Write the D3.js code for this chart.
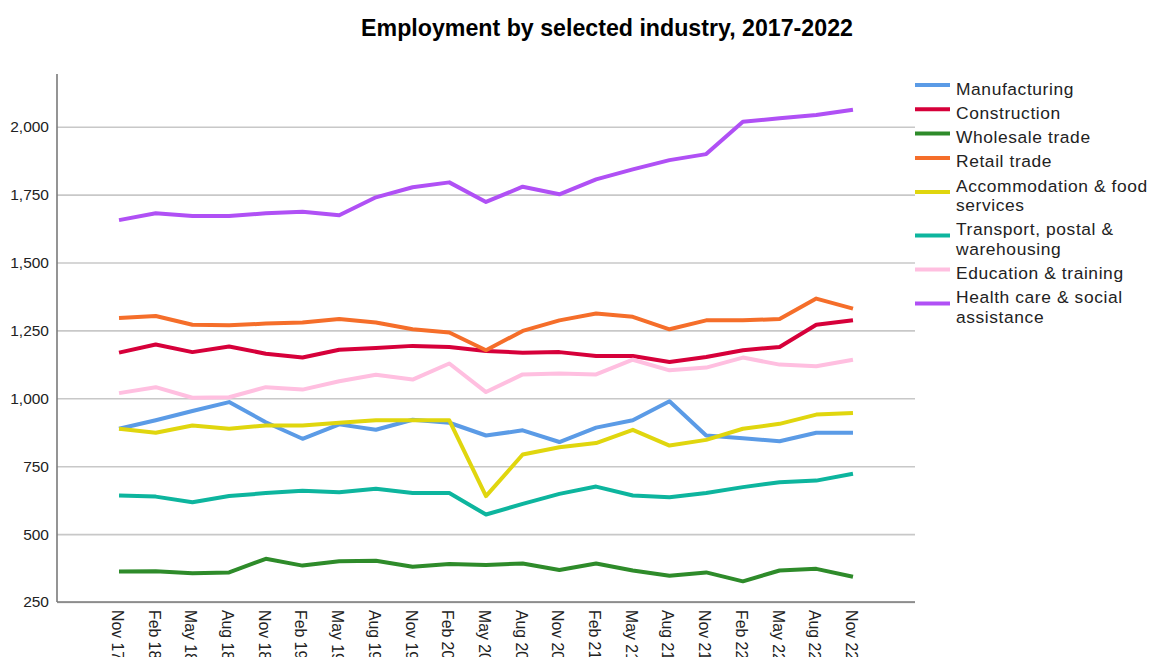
<!DOCTYPE html>
<html>
<head>
<meta charset="utf-8">
<script src="https://cdn.jsdelivr.net/npm/d3@7/dist/d3.min.js"></script>
<style>
  html, body { margin: 0; padding: 0; background: #fff; }
  svg { display: block; font-family: "Liberation Sans", Arial, sans-serif; }
</style>
</head>
<body>
<svg id="chart" width="1154" height="657"></svg>
<script>
// Quarterly reference periods
const periods = ["Nov 17", "Feb 18", "May 18", "Aug 18", "Nov 18", "Feb 19", "May 19", "Aug 19",
  "Nov 19", "Feb 20", "May 20", "Aug 20", "Nov 20", "Feb 21", "May 21", "Aug 21", "Nov 21",
  "Feb 22", "May 22", "Aug 22", "Nov 22"];

// Employed persons ('000) by industry
const manufacturing = [888, 919, 953, 986, 912, 851, 904, 884, 921, 910, 863, 882, 839, 892, 919, 989, 863, 853, 842, 873, 873];
const construction  = [1168, 1198, 1170, 1191, 1164, 1150, 1179, 1185, 1193, 1189, 1174, 1168, 1170, 1156, 1156, 1134, 1152, 1177, 1189, 1271, 1287];
const wholesale     = [362, 363, 356, 359, 409, 384, 400, 402, 380, 390, 386, 392, 368, 392, 366, 347, 359, 326, 366, 372, 343];
const retail        = [1296, 1303, 1271, 1269, 1275, 1279, 1292, 1279, 1254, 1242, 1177, 1248, 1287, 1312, 1300, 1254, 1287, 1287, 1292, 1367, 1330];
const accommodation = [888, 873, 900, 888, 900, 900, 910, 919, 919, 919, 640, 793, 820, 835, 884, 826, 847, 888, 906, 940, 946];
const transport     = [642, 638, 617, 640, 651, 660, 654, 667, 651, 651, 572, 611, 648, 675, 642, 636, 651, 673, 691, 697, 722];
const education     = [1019, 1041, 1002, 1004, 1041, 1032, 1063, 1087, 1069, 1128, 1023, 1088, 1091, 1088, 1142, 1103, 1113, 1150, 1124, 1118, 1142];
const health        = [1656, 1681, 1671, 1671, 1681, 1687, 1674, 1740, 1777, 1795, 1723, 1779, 1751, 1806, 1843, 1877, 1899, 2018, 2031, 2043, 2062];

const seriesNames = ["Manufacturing", "Construction", "Wholesale trade", "Retail trade",
  "Accommodation & food services", "Transport, postal & warehousing",
  "Education & training", "Health care & social assistance"];
const seriesValues = [manufacturing, construction, wholesale, retail, accommodation, transport, education, health];
const seriesColors = ["#5b9be6", "#d6003a", "#2e8b2a", "#f56e2a", "#e0d60e", "#0db59e", "#ffbfe0", "#b050f5"];

const yTicks = [250, 500, 750, 1000, 1250, 1500, 1750, 2000];

const svg = d3.select("#chart");
const plot = { left: 57, right: 915, top: 74, bottom: 602 };

const x = d3.scalePoint()
  .domain(periods)
  .range([plot.left, plot.right])
  .padding(1.69);

const y = d3.scaleLinear()
  .domain([250, 2194])
  .range([plot.bottom, plot.top]);

// Title
svg.append("text")
  .attr("x", 607)
  .attr("y", 36)
  .attr("text-anchor", "middle")
  .attr("font-size", "23.2px")
  .attr("font-weight", "bold")
  .attr("fill", "#000")
  .text("Employment by selected industry, 2017-2022");

// Horizontal gridlines and value labels
const yAxis = svg.append("g")
  .attr("transform", `translate(${plot.left},0)`)
  .call(d3.axisLeft(y)
    .tickValues(yTicks)
    .tickSize(-(plot.right - plot.left))
    .tickPadding(8)
    .tickFormat(d3.format(",")));
yAxis.select(".domain").remove();
yAxis.selectAll(".tick line")
  .attr("stroke", "#c8c8c8")
  .attr("stroke-width", 1.6);
yAxis.selectAll(".tick text")
  .attr("font-size", "15.5px")
  .attr("fill", "#222")
  .attr("font-family", "Liberation Sans, Arial, sans-serif");

// Period labels, rotated to read downward
const xAxis = svg.append("g")
  .attr("transform", `translate(0,${plot.bottom})`)
  .call(d3.axisBottom(x).tickSize(0).tickPadding(0));
xAxis.select(".domain").remove();
xAxis.selectAll(".tick text")
  .attr("font-size", "15.8px")
  .attr("fill", "#222")
  .attr("font-family", "Liberation Sans, Arial, sans-serif")
  .attr("text-anchor", "start")
  .attr("y", 0)
  .attr("dy", "0.35em")
  .attr("transform", "translate(-2,8) rotate(90)");

// Axis lines
svg.append("line")
  .attr("x1", plot.left).attr("x2", plot.left)
  .attr("y1", plot.top).attr("y2", plot.bottom)
  .attr("stroke", "#7a7a7a").attr("stroke-width", 1.6);
svg.append("line")
  .attr("x1", plot.left).attr("x2", plot.right)
  .attr("y1", plot.bottom).attr("y2", plot.bottom)
  .attr("stroke", "#7a7a7a").attr("stroke-width", 1.6);

// Series lines
const line = d3.line()
  .x((d, i) => x(periods[i]))
  .y(d => y(d));

svg.append("g")
  .selectAll("path")
  .data(seriesValues)
  .join("path")
  .attr("d", d => line(d))
  .attr("fill", "none")
  .attr("stroke", (d, i) => seriesColors[i])
  .attr("stroke-width", 4)
  .attr("stroke-linejoin", "round")
  .attr("stroke-linecap", "butt");

// Legend with wrapped labels
const legend = svg.append("g");
const legendTextX = 956;
const legendMaxWidth = 205;
const lineGap = 19.4;
let cursorY = 88.5;

seriesNames.forEach((name, i) => {
  const g = legend.append("g");
  const text = g.append("text")
    .attr("x", legendTextX)
    .attr("font-size", "17.4px")
    .attr("letter-spacing", "0.6px")
    .attr("fill", "#222");

  const words = name.split(" ");
  let lines = [];
  let current = [];
  const probe = text.append("tspan").attr("x", legendTextX);
  words.forEach(w => {
    const trial = current.concat([w]).join(" ");
    probe.text(trial);
    if (probe.node().getComputedTextLength() > legendMaxWidth && current.length) {
      lines.push(current.join(" "));
      current = [w];
    } else {
      current.push(w);
    }
  });
  lines.push(current.join(" "));
  probe.remove();

  lines.forEach((ln, k) => {
    text.append("tspan")
      .attr("x", legendTextX)
      .attr("y", cursorY + k * lineGap)
      .attr("dy", "0.35em")
      .text(ln);
  });

  const blockMid = cursorY + (lines.length - 1) * lineGap / 2;
  g.append("line")
    .attr("x1", 915).attr("x2", 950)
    .attr("y1", blockMid - 3.5).attr("y2", blockMid - 3.5)
    .attr("stroke", seriesColors[i])
    .attr("stroke-width", 4);

  cursorY += 24.3 + (lines.length - 1) * lineGap;
});
</script>
</body>
</html>
